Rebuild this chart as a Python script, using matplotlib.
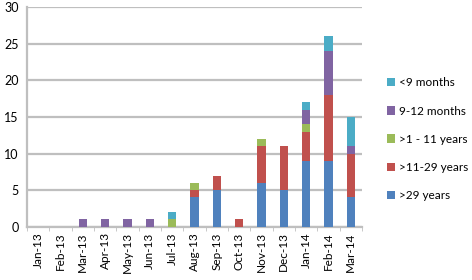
import matplotlib
matplotlib.use("Agg")
import matplotlib.pyplot as plt
import numpy as np

plt.rcParams['font.family'] = ['Lato', 'DejaVu Sans']

months = ["Jan-13", "Feb-13", "Mar-13", "Apr-13", "May-13", "Jun-13", "Jul-13",
          "Aug-13", "Sep-13", "Oct-13", "Nov-13", "Dec-13", "Jan-14", "Feb-14", "Mar-14"]
over29 = [0, 0, 0, 0, 0, 0, 0, 4, 5, 0, 6, 5, 9, 9, 4]
y11_29 = [0, 0, 0, 0, 0, 0, 0, 1, 2, 1, 5, 6, 4, 9, 6]
y1_11 = [0, 0, 0, 0, 0, 0, 1, 1, 0, 0, 1, 0, 1, 0, 0]
m9_12 = [0, 0, 1, 1, 1, 1, 0, 0, 0, 0, 0, 0, 2, 6, 1]
lt9m = [0, 0, 0, 0, 0, 0, 1, 0, 0, 0, 0, 0, 1, 2, 4]

series = [(">29 years", over29, "#4F81BD"),
          (">11-29 years", y11_29, "#C0504D"),
          (">1 - 11 years", y1_11, "#9BBB59"),
          ("9-12 months", m9_12, "#8064A2"),
          ("<9 months", lt9m, "#4BACC6")]

fig = plt.figure(figsize=(4.72, 2.8), dpi=100)
ax = fig.add_axes([0.057, 0.19, 0.71, 0.785])
x = np.arange(len(months))
bottom = np.zeros(len(months))
handles = []
for name, vals, col in series:
    v = np.array(vals, dtype=float)
    h = ax.bar(x, v, 0.38, bottom=bottom, color=col, label=name, zorder=3)
    handles.append(h)
    bottom += v

ax.set_xlim(-0.5, len(months) - 0.5)
ax.set_ylim(0, 30)
ax.set_yticks(range(0, 31, 5))
ax.yaxis.grid(True, color="#BFBFBF", linewidth=1.6, zorder=0)
ax.set_xticks(x)
ax.set_xticklabels(months, rotation=90, fontsize=8.5)
ax.set_xticks(np.arange(-0.5, len(months)), minor=True)
ax.tick_params(axis='x', which='major', length=0, pad=4)
ax.tick_params(axis='x', which='minor', length=3, color="#BFBFBF")
ax.tick_params(axis='y', length=0, labelsize=9, pad=6)
for s in ["top", "right"]:
    ax.spines[s].set_visible(False)
ax.spines["left"].set_color("#BFBFBF")
ax.spines["bottom"].set_color("#BFBFBF")
ax.spines["left"].set_linewidth(1.6)
ax.spines["bottom"].set_linewidth(1.6)

leg = fig.legend(handles[::-1], [s[0] for s in series][::-1], loc="center left",
                 bbox_to_anchor=(0.82, 0.503), frameon=False, fontsize=8.5,
                 handlelength=0.7, handleheight=0.7, handletextpad=0.3,
                 labelspacing=1.45, borderaxespad=0, borderpad=0)

fig.savefig("out.png", dpi=100)
